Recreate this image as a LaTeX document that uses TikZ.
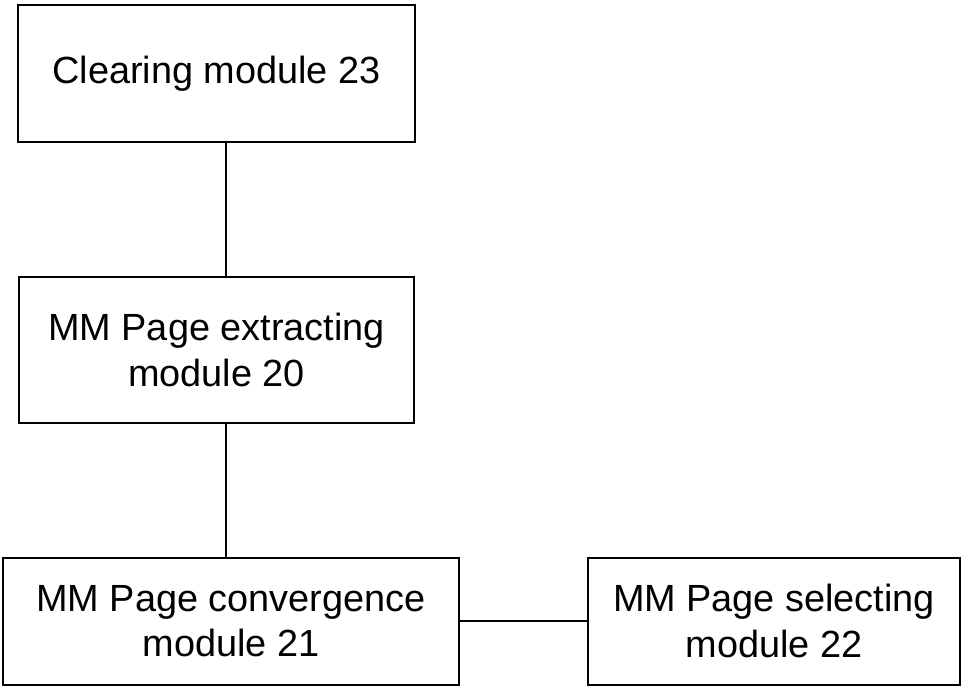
\documentclass[tikz,border=0pt]{standalone}
\usepackage{fontspec}
\setmainfont{Liberation Sans}
\begin{document}
\begin{tikzpicture}[
        x=0.75pt, y=-0.75pt,
        module/.style={draw, line width=1.5pt, align=center, inner sep=0pt,
            font=\fontsize{28.4}{34}\selectfont},
        link/.style={draw, line width=1.5pt}
    ]
        \useasboundingbox (0,0) rectangle (963,686);
        \node[module, minimum width=397*0.75pt, minimum height=137*0.75pt] (clear) at (216.5,73.5) {Clearing module 23};
        \node[module, minimum width=395*0.75pt, minimum height=146*0.75pt] (extract) at (216.5,350) {MM Page extracting\\module 20};
        \node[module, minimum width=456*0.75pt, minimum height=127*0.75pt] (conv) at (231,621) {MM Page convergence\\module 21};
        \node[module, minimum width=372*0.75pt, minimum height=127*0.75pt] (select) at (774,621) {MM Page selecting\\module 22};
        \path[link] ([xshift=7pt]clear.south) -- ([xshift=7pt]extract.north);
        \path[link] ([xshift=7pt]extract.south) -- ([xshift=7pt]extract.south |- conv.north);
        \path[link] (conv) -- (select);
    \end{tikzpicture}
\end{document}
